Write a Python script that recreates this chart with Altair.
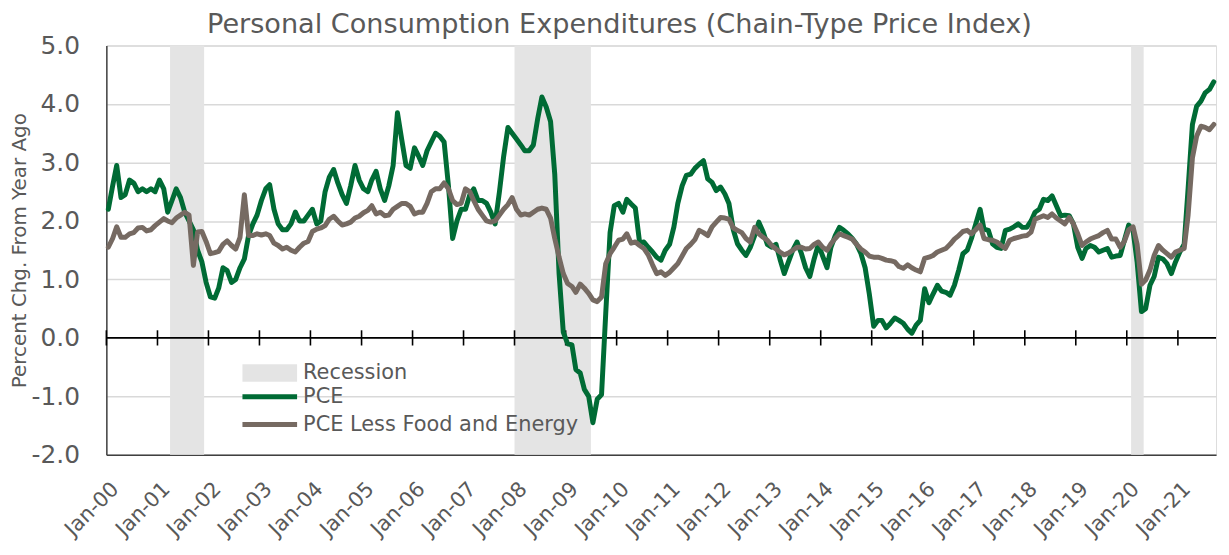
import altair as alt
import pandas as pd

# ---- data (monthly, year-over-year % change), Jan 2000 - Sep 2021 ----
START_MONTH = "2000-01-01"

PCE_YOY = [
    2.2, 2.6, 2.95, 2.4, 2.45, 2.7, 2.65, 2.5, 2.55, 2.5, 2.55, 2.5,        # 2000
    2.7, 2.55, 2.15, 2.35, 2.55, 2.4, 2.15, 2.0, 1.85, 1.5, 1.3, 0.95,      # 2001
    0.7, 0.68, 0.85, 1.2, 1.15, 0.95, 1.0, 1.2, 1.35, 1.75, 1.95, 2.1,      # 2002
    2.35, 2.55, 2.62, 2.2, 1.95, 1.85, 1.85, 1.95, 2.15, 2.0, 2.0, 2.1,     # 2003
    2.2, 1.95, 2.0, 2.5, 2.75, 2.88, 2.65, 2.45, 2.3, 2.6, 2.95, 2.7,       # 2004
    2.55, 2.5, 2.7, 2.85, 2.55, 2.35, 2.6, 2.95, 3.85, 3.4, 2.95, 2.9,      # 2005
    3.25, 3.1, 2.95, 3.2, 3.35, 3.5, 3.45, 3.35, 2.6, 1.7, 2.0, 2.2,        # 2006
    2.2, 2.45, 2.55, 2.35, 2.35, 2.3, 2.15, 1.95, 2.5, 3.1, 3.6, 3.5,       # 2007
    3.4, 3.3, 3.2, 3.2, 3.3, 3.75, 4.12, 3.95, 3.7, 2.8, 1.1, 0.1,          # 2008
    -0.1, -0.12, -0.54, -0.6, -0.88, -1.0, -1.45, -1.05, -0.97, 0.42, 1.8, 2.26,  # 2009
    2.3, 2.15, 2.37, 2.29, 2.22, 1.62, 1.64, 1.55, 1.47, 1.38, 1.33, 1.5,   # 2010
    1.6, 1.9, 2.3, 2.6, 2.78, 2.8, 2.9, 2.97, 3.03, 2.72, 2.66, 2.52,       # 2011
    2.58, 2.46, 2.3, 1.85, 1.61, 1.5, 1.41, 1.55, 1.75, 1.98, 1.81, 1.6,    # 2012
    1.55, 1.6, 1.35, 1.1, 1.3, 1.5, 1.64, 1.45, 1.2, 1.05, 1.35, 1.6,       # 2013
    1.4, 1.2, 1.55, 1.75, 1.89, 1.84, 1.78, 1.7, 1.6, 1.45, 1.2, 0.75,      # 2014
    0.2, 0.3, 0.3, 0.17, 0.25, 0.34, 0.3, 0.25, 0.15, 0.08, 0.22, 0.3,      # 2015
    0.84, 0.6, 0.75, 0.9, 0.8, 0.78, 0.73, 0.9, 1.16, 1.44, 1.5, 1.7,      # 2016
    1.95, 2.2, 1.86, 1.84, 1.61, 1.55, 1.53, 1.84, 1.86, 1.9, 1.95, 1.89,   # 2017
    1.89, 2.0, 2.15, 2.2, 2.37, 2.35, 2.43, 2.26, 2.09, 2.1, 2.09, 1.95,    # 2018
    1.55, 1.36, 1.53, 1.58, 1.55, 1.47, 1.5, 1.53, 1.38, 1.4, 1.41, 1.67,   # 2019
    1.93, 1.84, 1.3, 0.45, 0.5, 0.9, 1.05, 1.38, 1.35, 1.27, 1.1, 1.3,      # 2020
    1.47, 1.6, 2.55, 3.65, 3.96, 4.05, 4.19, 4.25, 4.38,                     # 2021
]

CORE_YOY = [
    1.55, 1.7, 1.9, 1.72, 1.72, 1.78, 1.8, 1.88, 1.89, 1.83, 1.85, 1.92,    # 2000
    1.98, 2.04, 2.0, 1.97, 2.05, 2.1, 2.15, 2.1, 1.24, 1.81, 1.82, 1.65,    # 2001
    1.44, 1.46, 1.48, 1.6, 1.66, 1.58, 1.52, 1.72, 2.45, 1.75, 1.75, 1.78,  # 2002
    1.76, 1.78, 1.75, 1.62, 1.58, 1.52, 1.55, 1.5, 1.47, 1.55, 1.62, 1.65,  # 2003
    1.82, 1.86, 1.88, 1.92, 2.03, 2.08, 2.0, 1.93, 1.95, 1.98, 2.05, 2.08,  # 2004
    2.14, 2.18, 2.26, 2.12, 2.15, 2.09, 2.1, 2.2, 2.25, 2.3, 2.3, 2.25,     # 2005
    2.12, 2.15, 2.15, 2.3, 2.5, 2.55, 2.55, 2.65, 2.55, 2.35, 2.28, 2.3,    # 2006
    2.55, 2.5, 2.35, 2.2, 2.1, 2.0, 1.98, 2.0, 2.1, 2.2, 2.28, 2.4,         # 2007
    2.2, 2.1, 2.12, 2.1, 2.15, 2.2, 2.22, 2.2, 2.05, 1.7, 1.38, 1.1,        # 2008
    0.93, 0.88, 0.78, 0.92, 0.85, 0.76, 0.65, 0.62, 0.7, 1.27, 1.44, 1.55,  # 2009
    1.67, 1.69, 1.78, 1.62, 1.64, 1.58, 1.53, 1.42, 1.25, 1.1, 1.13, 1.07,  # 2010
    1.12, 1.2, 1.27, 1.4, 1.53, 1.6, 1.68, 1.84, 1.8, 1.75, 1.9, 1.98,      # 2011
    2.06, 2.05, 2.03, 1.88, 1.84, 1.8, 1.7, 1.64, 1.89, 1.78, 1.72, 1.67,   # 2012
    1.58, 1.52, 1.47, 1.42, 1.45, 1.5, 1.55, 1.55, 1.52, 1.53, 1.6, 1.64,   # 2013
    1.55, 1.5, 1.61, 1.7, 1.78, 1.75, 1.72, 1.69, 1.6, 1.52, 1.47, 1.4,     # 2014
    1.38, 1.38, 1.36, 1.33, 1.32, 1.3, 1.22, 1.19, 1.25, 1.2, 1.16, 1.13,   # 2015
    1.36, 1.38, 1.41, 1.47, 1.5, 1.53, 1.6, 1.69, 1.75, 1.82, 1.84, 1.78,   # 2016
    1.85, 1.93, 1.7, 1.68, 1.67, 1.64, 1.58, 1.53, 1.67, 1.7, 1.72, 1.74,   # 2017
    1.75, 1.81, 2.03, 2.06, 2.09, 2.06, 2.12, 2.05, 2.0, 1.95, 2.06, 1.95,  # 2018
    1.78, 1.58, 1.64, 1.69, 1.72, 1.75, 1.8, 1.84, 1.69, 1.69, 1.55, 1.65,  # 2019
    1.85, 1.9, 1.6, 0.92, 0.99, 1.16, 1.41, 1.58, 1.5, 1.44, 1.38, 1.47,    # 2020
    1.5, 1.53, 2.1, 3.08, 3.45, 3.62, 3.6, 3.56, 3.65,                       # 2021
]

SERIES_NAMES = ["PCE", "PCE Less Food and Energy"]
SERIES_COLORS = ["#006B35", "#766A62"]

RECESSION_START = ["2001-04-01", "2008-01-01", "2020-02-01"]
RECESSION_END = ["2001-12-01", "2009-07-01", "2020-05-01"]

TICK_YEARS = list(range(2000, 2022))
Y_TICKS = [-2, -1, 0, 1, 2, 3, 4, 5]

TITLE = "Personal Consumption Expenditures (Chain-Type Price Index)"
Y_TITLE = "Percent Chg. From Year Ago"

# ---- tables ----
months = pd.date_range(START_MONTH, periods=len(PCE_YOY), freq="MS") + pd.Timedelta(days=14)
month_str = [d.strftime("%Y-%m-%dT00:00:00") for d in months]
lines_df = pd.DataFrame({
    "date": month_str * 2,
    "value": PCE_YOY + CORE_YOY,
    "series": [SERIES_NAMES[0]] * len(PCE_YOY) + [SERIES_NAMES[1]] * len(CORE_YOY),
})
rec_df = pd.DataFrame({
    "start": [s + "T00:00:00" for s in RECESSION_START],
    "end": [e + "T00:00:00" for e in RECESSION_END],
    "label": ["Recession"] * len(RECESSION_START),
})
tick_df = pd.DataFrame({
    "date": [f"{y}-01-01T00:00:00" for y in TICK_YEARS],
    "lo": [-0.13] * len(TICK_YEARS),
    "hi": [0.13] * len(TICK_YEARS),
})
zero_df = pd.DataFrame({"zero": [0]})

FONT = "DejaVu Sans"
TXT = "#595959"

x_scale = alt.Scale(domain=[alt.DateTime(year=2000, month=1, date=1),
                            alt.DateTime(year=2021, month=10, date=1)], nice=False)
y_scale = alt.Scale(domain=[-2, 5], nice=False, zero=False)

x_axis = alt.Axis(
    values=[alt.DateTime(year=y, month=1, date=1) for y in TICK_YEARS],
    format="%b-%y", labelAngle=315, labelAlign="right", labelBaseline="middle",
    labelFontSize=21, labelColor=TXT, labelFont=FONT, labelPadding=31,
    labelOffset=9, labelOverlap=False, labelFlush=False, labelBound=False,
    ticks=False, grid=False, domain=True, domainColor="#404040", domainWidth=1.5,
    title=None, zindex=0,
)
y_axis = alt.Axis(
    values=Y_TICKS, labelExpr="replace(format(datum.value, '.1f'), '\u2212', '-')",
    labelFontSize=25, labelColor=TXT, labelFont=FONT,
    labelPadding=27, ticks=False, domain=True, domainColor="#404040", domainWidth=1.5,
    grid=True, gridColor="#D9D9D9", gridWidth=1.5,
    title=Y_TITLE, titleFontSize=20, titleFont=FONT, titleFontWeight="normal",
    titleColor=TXT, titleX=-87, titleBaseline="middle", titleAngle=270,
)

# legend symbols: long relative paths so the nominal symbol size stays small
LINE_SYMBOL = "M-5,0H5"
BOX_SYMBOL = "M-5,-1.6H5V1.6H-5Z"

legend_common = dict(
    orient="none", title=None, symbolSize=121, labelFontSize=21, labelColor=TXT,
    labelFont=FONT, labelOffset=23, labelLimit=500, rowPadding=6,
)

rec = alt.Chart(rec_df).mark_rect().encode(
    x=alt.X("start:T", scale=x_scale, axis=x_axis),
    x2="end:T",
    fill=alt.Fill("label:N", scale=alt.Scale(domain=["Recession"], range=["#E4E4E4"]),
                  legend=alt.Legend(legendX=154, legendY=319, symbolType=BOX_SYMBOL,
                                    symbolStrokeWidth=0, **legend_common)),
)

zero = alt.Chart(zero_df).mark_rule(color="#000000", strokeWidth=1.6).encode(
    y=alt.Y("zero:Q", scale=y_scale, axis=y_axis),
)

ticks = alt.Chart(tick_df).mark_rule(color="#000000", strokeWidth=1.6).encode(
    x=alt.X("date:T", scale=x_scale, axis=x_axis),
    y=alt.Y("lo:Q", scale=y_scale, axis=y_axis),
    y2="hi:Q",
)

lines = alt.Chart(lines_df).mark_line(strokeWidth=5, strokeJoin="round", strokeCap="round").encode(
    x=alt.X("date:T", scale=x_scale, axis=x_axis),
    y=alt.Y("value:Q", scale=y_scale, axis=y_axis),
    stroke=alt.Stroke("series:N", scale=alt.Scale(domain=SERIES_NAMES, range=SERIES_COLORS),
                      legend=alt.Legend(legendX=154, legendY=343, symbolType=LINE_SYMBOL,
                                        symbolStrokeWidth=5, **legend_common)),
    order=alt.Order("date:T"),
)

chart = alt.layer(rec, zero, ticks, lines).properties(
    width=1117, height=412,
    autosize=alt.AutoSizeParams(type="none"),
    padding={"left": 99, "top": 36, "right": 5, "bottom": 95},
    title=alt.TitleParams(TITLE, fontSize=27.3, font=FONT, fontWeight="normal", color=TXT,
                          anchor="middle", dx=-42, offset=-5),
).configure_view(
    stroke="#666666", strokeWidth=1.5,
).configure(background="white")

chart.save("out.html", embed_options={"renderer": "svg", "actions": False})
